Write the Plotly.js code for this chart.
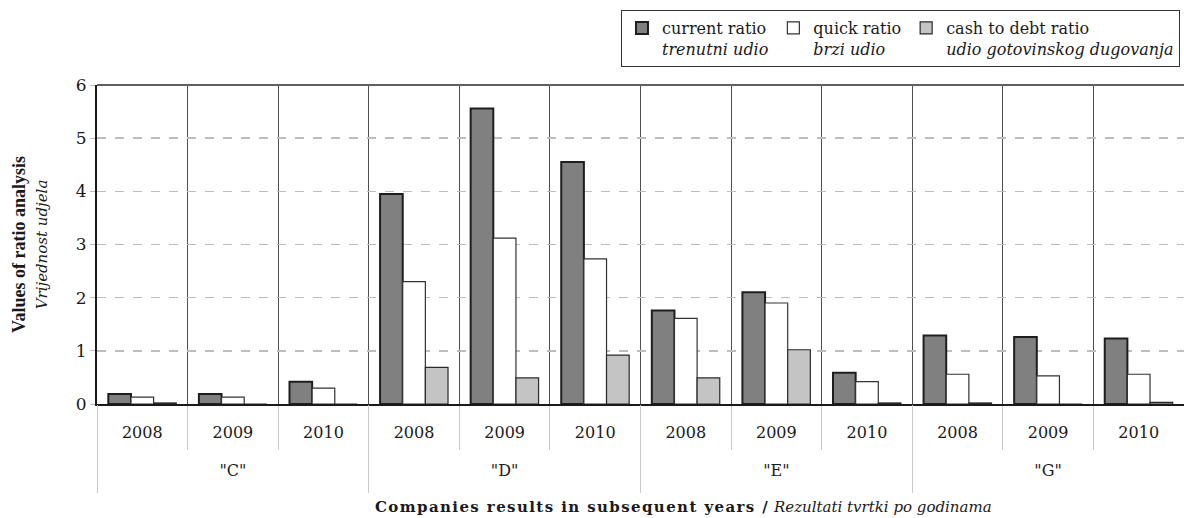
<!DOCTYPE html>
<html>
<head>
<meta charset="utf-8">
<script src="https://cdn.plot.ly/plotly-3.0.1.min.js"></script>
<style>html,body{margin:0;padding:0;background:#fff;}#chart{width:1184px;height:518px;}</style>
</head>
<body>
<div id="chart"></div>
<script>
// ---- data ----
var companies = ['"C"', '"C"', '"C"', '"D"', '"D"', '"D"', '"E"', '"E"', '"E"', '"G"', '"G"', '"G"'];
var years = ['2008', '2009', '2010', '2008', '2009', '2010', '2008', '2009', '2010', '2008', '2009', '2010'];
var currentRatio = [0.19, 0.19, 0.42, 3.95, 5.56, 4.55, 1.76, 2.10, 0.59, 1.29, 1.26, 1.23];
var quickRatio   = [0.13, 0.13, 0.30, 2.30, 3.12, 2.73, 1.61, 1.90, 0.42, 0.56, 0.53, 0.56];
var cashToDebt   = [0.02, 0.00, 0.00, 0.69, 0.49, 0.92, 0.49, 1.02, 0.02, 0.02, 0.00, 0.03];
var seriesNames = [
  'current ratio<br><i>trenutni udio</i>',
  'quick ratio<br><i>brzi udio</i>',
  'cash to debt ratio<br><i>udio gotovinskog dugovanja</i>'
];
var xTitle = '<b><span style="letter-spacing:1.4px">Companies results in subsequent years /</span></b> <i>Rezultati tvrtki po godinama</i>';
var yTitle = '<b><span style="font-family:Liberation Serif;font-size:18px">Values of ratio analysis</span></b><br><i><span style="font-family:DejaVu Serif;font-size:15px">Vrijednost udjela</span></i>';

var FONT = 'DejaVu Serif, Liberation Serif, serif';
var VFONT = 'Liberation Serif, DejaVu Serif, serif';
var n = years.length;
var idx = years.map(function (_, i) { return i; });

// category boundaries and group centres derived from the arrays
var yearBounds = [];
for (var i = 0; i <= n; i++) yearBounds.push(i - 0.5);
var groupBounds = [-0.5], groupCenters = [], groupNames = [];
var start = 0;
for (var j = 1; j <= n; j++) {
  if (j === n || companies[j] !== companies[j - 1]) {
    groupBounds.push(j - 0.5);
    groupCenters.push((start + j - 1) / 2);
    groupNames.push(companies[start]);
    start = j;
  }
}

var traces = [
  {type: 'bar', x: idx, y: currentRatio, name: seriesNames[0],
   marker: {color: '#808080', line: {color: '#1e1e1e', width: 2}}},
  {type: 'bar', x: idx, y: quickRatio, name: seriesNames[1],
   marker: {color: '#ffffff', line: {color: '#333333', width: 1.2}}},
  {type: 'bar', x: idx, y: cashToDebt, name: seriesNames[2],
   marker: {color: '#c4c4c4', line: {color: '#2a2a2a', width: 1.2}}},
  // invisible carrier so the company-level axis is drawn
  {type: 'scatter', x: idx, y: currentRatio, xaxis: 'x2', yaxis: 'y', mode: 'markers',
   marker: {opacity: 0, size: 1}, showlegend: false, hoverinfo: 'skip'}
];

var layout = {
  width: 1184, height: 518,
  margin: {l: 97, r: 0, t: 85, b: 114},
  paper_bgcolor: '#ffffff', plot_bgcolor: '#ffffff',
  font: {family: FONT, size: 15, color: '#1a1a1a'},
  barmode: 'group', bargap: 0.25, bargroupgap: 0,
  showlegend: true,
  legend: {
    orientation: 'h', x: 0.9963, xanchor: 'right', y: 1.235, yanchor: 'top',
    bordercolor: '#333', borderwidth: 1, bgcolor: '#fff',
    font: {family: FONT, size: 16, color: '#1a1a1a'},
    valign: 'top', traceorder: 'normal', itemwidth: 30
  },
  xaxis: {
    type: 'linear', range: [-0.5, n - 0.5], automargin: false, fixedrange: true,
    tickmode: 'array', tickvals: idx, ticktext: years, ticks: '',
    showline: true, linecolor: '#1a1a1a', linewidth: 2,
    showgrid: false, zeroline: false,
    minor: {tickmode: 'array', tickvals: yearBounds, ticks: 'outside', ticklen: 44,
            tickcolor: '#c8c8c8', tickwidth: 1, showgrid: true, gridcolor: '#505050', gridwidth: 1},
    ticklabelstandoff: 13,
    tickfont: {family: FONT, size: 16, color: '#1a1a1a'}
  },
  xaxis2: {
    overlaying: 'x', anchor: 'y', side: 'bottom', type: 'linear', range: [-0.5, n - 0.5],
    automargin: false, fixedrange: true,
    tickmode: 'array', tickvals: groupCenters, ticktext: groupNames, ticks: '',
    showline: false, showgrid: false, zeroline: false,
    minor: {tickmode: 'array', tickvals: groupBounds, ticks: 'outside', ticklen: 88,
            tickcolor: '#c8c8c8', tickwidth: 1, showgrid: false},
    ticklabelstandoff: 55,
    tickfont: {family: FONT, size: 16, color: '#1a1a1a'}
  },
  yaxis: {
    range: [0, 6], dtick: 1, automargin: false, fixedrange: true,
    showline: true, linecolor: '#1a1a1a', linewidth: 2,
    showgrid: true, gridcolor: '#bdbdbd', gridwidth: 1.5, griddash: 'dash',
    ticks: 'outside', ticklen: 5, tickcolor: '#bdbdbd',
    zeroline: false,
    tickfont: {family: FONT, size: 17, color: '#1a1a1a'},
    title: {text: yTitle, font: {family: VFONT, size: 17, color: '#1a1a1a'}, standoff: 24}
  },
  annotations: [
    {text: xTitle, xref: 'paper', yref: 'paper', x: 0.54, y: -0.323,
     xanchor: 'center', yanchor: 'middle', showarrow: false,
     font: {family: FONT, size: 15, color: '#1a1a1a'}}
  ],
  shapes: [
    {type: 'line', xref: 'paper', yref: 'paper', x0: 0, x1: 1, y0: 1, y1: 1,
     line: {color: '#606060', width: 2}, layer: 'above'}
  ]
};

Plotly.newPlot('chart', traces, layout, {displayModeBar: false, staticPlot: true});
</script>
</body>
</html>
